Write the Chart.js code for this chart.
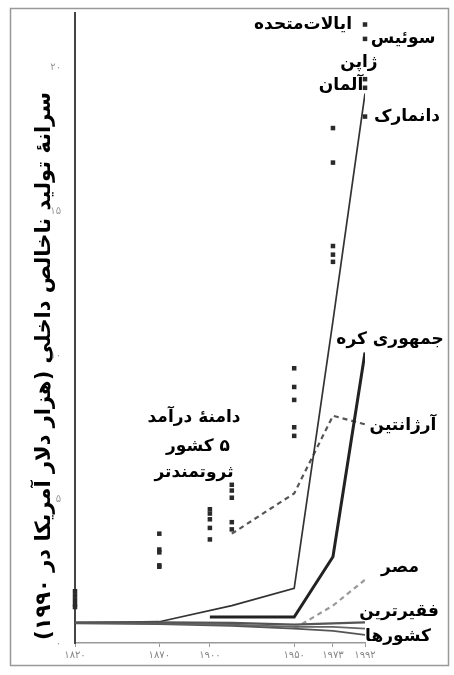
<!DOCTYPE html>
<html lang="fa">
<head>
<meta charset="utf-8">
<script src="https://cdn.jsdelivr.net/npm/chart.js@4.4.1/dist/chart.umd.min.js"></script>
<style>
  html, body { margin: 0; padding: 0; background: #fff; }
  #wrap { width: 454px; height: 675px; }
</style>
</head>
<body>
<div id="wrap"><canvas id="gdpChart" width="454" height="675"></canvas></div>
<script>
// محور افقی و عمودی
const xTickYears = [1820, 1870, 1900, 1950, 1973, 1992];
const yTickValues = [0, 5, 10, 15, 20];

// خطوط (هزار دلار)
const japanYears = [1820, 1870, 1913, 1950, 1973, 1992];
const japanGdp = [0.7, 0.74, 1.3, 1.9, 11.2, 19.1];
const koreaYears = [1900, 1950, 1973, 1992];
const koreaGdp = [0.9, 0.9, 3.0, 10.1];
const argentinaYears = [1913, 1950, 1973, 1992];
const argentinaGdp = [3.8, 5.2, 7.9, 7.6];
const egyptYears = [1950, 1973, 1992];
const egyptGdp = [0.5, 1.3, 2.2];
const poorYears = [1820, 1870, 1913, 1950, 1973, 1992];
const poorA = [0.72, 0.72, 0.7, 0.64, 0.68, 0.72];
const poorB = [0.7, 0.68, 0.64, 0.56, 0.56, 0.5];
const poorC = [0.68, 0.66, 0.6, 0.5, 0.42, 0.28];

// دامنه درآمد ۵ کشور ثروتمندتر
const richYears = [1820, 1870, 1900, 1913, 1950, 1973, 1992];
const richValues = [
  [1.8, 1.65, 1.5, 1.35, 1.25],
  [3.8, 3.25, 3.15, 2.7, 2.65],
  [4.65, 4.5, 4.3, 4.0, 3.6],
  [5.5, 5.3, 5.05, 4.2, 3.95],
  [9.55, 8.9, 8.45, 7.5, 7.2],
  [17.9, 16.7, 13.8, 13.5, 13.25],
  [21.5, 21.0, 19.6, 19.3, 18.3]
];

const faDigits = n => String(n).replace(/\d/g, d => "۰۱۲۳۴۵۶۷۸۹"[d]);
const pts = (xs, ys) => xs.map((x, i) => ({ x: x, y: ys[i] }));

const richPoints = [];
richYears.forEach((yr, i) => {
  richValues[i].forEach(v => richPoints.push({ x: yr, y: v }));
});

// برچسب‌ها
const labelFont = 'bold 17px "DejaVu Sans"';
const notes = [
  { text: "ایالات‌متحده", x: 303, y: 25 },
  { text: "سوئیس", x: 403, y: 39 },
  { text: "ژاپن", x: 359, y: 63 },
  { text: "آلمان", x: 341, y: 86 },
  { text: "دانمارک", x: 407, y: 117 },
  { text: "جمهوری کره", x: 390, y: 340 },
  { text: "آرژانتین", x: 403, y: 426 },
  { text: "دامنهٔ درآمد", x: 194, y: 418 },
  { text: "۵ کشور", x: 198, y: 447 },
  { text: "ثروتمندتر", x: 194, y: 473 },
  { text: "مصر", x: 400, y: 568 },
  { text: "فقیرترین", x: 399, y: 612 },
  { text: "کشورها", x: 398, y: 637 }
];
const yTitle = "سرانهٔ تولید ناخالص داخلی (هزار دلار آمریکا در ۱۹۹۰)";

const notesPlugin = {
  id: "notes",
  beforeDraw(chart) {
    const ctx = chart.ctx;
    ctx.save();
    ctx.fillStyle = "#fff";
    ctx.fillRect(0, 0, chart.width, chart.height);
    ctx.strokeStyle = "#999";
    ctx.lineWidth = 1.5;
    ctx.strokeRect(10.5, 8.5, 438, 657);
    ctx.restore();
  },
  afterDraw(chart) {
    const ctx = chart.ctx;
    ctx.save();
    ctx.direction = "rtl";
    ctx.fillStyle = "#000";
    ctx.textAlign = "center";
    ctx.textBaseline = "middle";
    ctx.font = labelFont;
    notes.forEach(n => ctx.fillText(n.text, n.x, n.y));
    ctx.translate(45, 366);
    ctx.rotate(-Math.PI / 2);
    ctx.font = 'bold 21px "DejaVu Sans"';
    ctx.fillText(yTitle, 0, 0);
    ctx.restore();
  }
};

const lineBase = { type: "line", pointRadius: 0, tension: 0, fill: false };

new Chart(document.getElementById("gdpChart"), {
  data: {
    datasets: [
      { ...lineBase, label: "poorA", data: pts(poorYears, poorA), borderColor: "#555", borderWidth: 2.2 },
      { ...lineBase, label: "poorB", data: pts(poorYears, poorB), borderColor: "#666", borderWidth: 1.8 },
      { ...lineBase, label: "poorC", data: pts(poorYears, poorC), borderColor: "#555", borderWidth: 1.8 },
      { ...lineBase, label: "ژاپن", data: pts(japanYears, japanGdp), borderColor: "#333", borderWidth: 1.7 },
      { ...lineBase, label: "جمهوری کره", data: pts(koreaYears, koreaGdp), borderColor: "#222", borderWidth: 3 },
      { ...lineBase, label: "آرژانتین", data: pts(argentinaYears, argentinaGdp), borderColor: "#555", borderWidth: 2.2, borderDash: [5, 4] },
      { ...lineBase, label: "مصر", data: pts(egyptYears, egyptGdp), borderColor: "#999", borderWidth: 2.2, borderDash: [5, 4] },
      {
        type: "scatter", label: "rich", data: richPoints, showLine: false,
        pointStyle: "rect", pointRadius: 3.2, backgroundColor: "#2a2a2a",
        borderWidth: 0, clip: false
      }
    ]
  },
  options: {
    responsive: false,
    animation: false,
    devicePixelRatio: 1,
    layout: { padding: { left: 0, right: 89, top: 13, bottom: 0 } },
    plugins: { legend: { display: false }, tooltip: { enabled: false } },
    scales: {
      x: {
        type: "linear",
        min: 1820,
        max: 1992,
        afterBuildTicks: axis => { axis.ticks = xTickYears.map(v => ({ value: v })); },
        afterFit: axis => { axis.height = 32; },
        ticks: {
          callback: v => faDigits(v),
          color: "#888",
          font: { family: "DejaVu Sans", size: 10 },
          padding: 2,
          maxRotation: 0,
          autoSkip: false
        },
        grid: { display: true, drawOnChartArea: false, drawTicks: true, tickLength: 4, color: "#999" },
        border: { display: true, color: "#999", width: 1.5 }
      },
      y: {
        type: "linear",
        min: 0,
        max: 21.9,
        afterBuildTicks: axis => { axis.ticks = yTickValues.map(v => ({ value: v })); },
        afterFit: axis => { axis.width = 75; },
        ticks: {
          callback: v => faDigits(v),
          color: "#999",
          font: { family: "DejaVu Sans", size: 10 },
          padding: 6
        },
        grid: { display: false },
        border: { display: true, color: "#444", width: 2 }
      }
    }
  },
  plugins: [notesPlugin]
});
</script>
</body>
</html>
